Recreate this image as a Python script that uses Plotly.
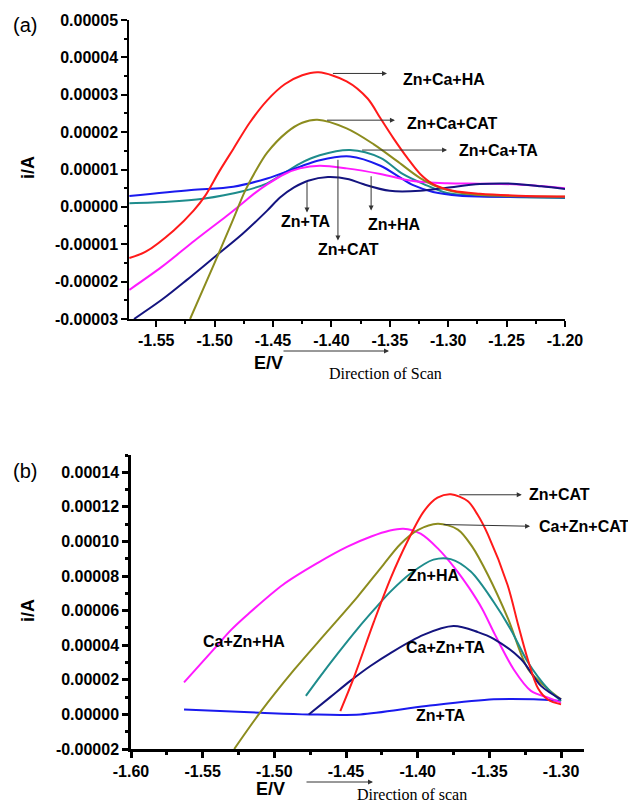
import plotly.graph_objects as go

W, H = 636, 805
OX, OY = 8, 8  # page body margin offset

# ---------------- Panel (a) data ----------------
a_zn_ca_ha_E = [-1.573, -1.559, -1.535, -1.518, -1.508, -1.496, -1.484, -1.47, -1.455, -1.44, -1.425, -1.411, -1.387, -1.369, -1.358, -1.347, -1.335, -1.324, -1.313, -1.296, -1.273, -1.24, -1.20]
a_zn_ca_ha_I = [-1.37e-5, -1.2e-5, -0.63e-5, -0.1e-5, 0.3e-5, 0.95e-5, 1.55e-5, 2.25e-5, 2.85e-5, 3.28e-5, 3.52e-5, 3.6e-5, 3.36e-5, 2.9e-5, 2.37e-5, 1.84e-5, 1.31e-5, 0.88e-5, 0.61e-5, 0.43e-5, 0.35e-5, 0.3e-5, 0.28e-5]

a_zn_ca_cat_E = [-1.521, -1.50, -1.485, -1.474, -1.465, -1.455, -1.438, -1.425, -1.412, -1.387, -1.364, -1.344, -1.324, -1.307, -1.284, -1.25, -1.20]
a_zn_ca_cat_I = [-3.0e-5, -1.5e-5, -0.4e-5, 0.42e-5, 0.95e-5, 1.45e-5, 2.0e-5, 2.25e-5, 2.33e-5, 2.1e-5, 1.68e-5, 1.23e-5, 0.77e-5, 0.51e-5, 0.35e-5, 0.29e-5, 0.27e-5]

a_zn_ca_ta_E = [-1.573, -1.54, -1.51, -1.476, -1.455, -1.427, -1.41, -1.384, -1.358, -1.339, -1.321, -1.301, -1.273, -1.24, -1.20]
a_zn_ca_ta_I = [0.1e-5, 0.14e-5, 0.22e-5, 0.42e-5, 0.63e-5, 1.16e-5, 1.38e-5, 1.52e-5, 1.31e-5, 0.88e-5, 0.61e-5, 0.37e-5, 0.29e-5, 0.26e-5, 0.24e-5]

a_zn_cat_E = [-1.573, -1.52, -1.484, -1.455, -1.41, -1.384, -1.358, -1.341, -1.33, -1.313, -1.29, -1.25, -1.20]
a_zn_cat_I = [0.29e-5, 0.45e-5, 0.54e-5, 0.76e-5, 1.25e-5, 1.35e-5, 1.1e-5, 0.78e-5, 0.58e-5, 0.4e-5, 0.3e-5, 0.27e-5, 0.26e-5]

a_zn_ta_E = [-1.569, -1.545, -1.524, -1.50, -1.476, -1.455, -1.444, -1.432, -1.42, -1.403, -1.385, -1.373, -1.35, -1.324, -1.301, -1.273, -1.245, -1.22, -1.20]
a_zn_ta_I = [-3.0e-5, -2.48e-5, -1.96e-5, -1.34e-5, -0.72e-5, -0.1e-5, 0.25e-5, 0.52e-5, 0.7e-5, 0.8e-5, 0.74e-5, 0.61e-5, 0.43e-5, 0.43e-5, 0.51e-5, 0.61e-5, 0.62e-5, 0.55e-5, 0.48e-5]

a_zn_ha_E = [-1.573, -1.545, -1.517, -1.49, -1.478, -1.465, -1.455, -1.44, -1.427, -1.41, -1.387, -1.358, -1.33, -1.301, -1.273, -1.24, -1.20]
a_zn_ha_I = [-2.22e-5, -1.6e-5, -0.9e-5, -0.25e-5, 0.05e-5, 0.38e-5, 0.6e-5, 0.88e-5, 1.03e-5, 1.1e-5, 1.03e-5, 0.88e-5, 0.69e-5, 0.63e-5, 0.62e-5, 0.6e-5, 0.5e-5]

# ---------------- Panel (b) data ----------------
b_ca_zn_ha_E = [-1.563, -1.542, -1.53, -1.519, -1.494, -1.47, -1.449, -1.432, -1.42, -1.41, -1.398, -1.386, -1.374, -1.364, -1.355, -1.346, -1.333, -1.321, -1.309, -1.30]
b_ca_zn_ha_I = [1.85e-5, 3.79e-5, 4.9e-5, 5.75e-5, 7.5e-5, 8.75e-5, 9.7e-5, 10.3e-5, 10.62e-5, 10.74e-5, 10.45e-5, 9.6e-5, 8.45e-5, 7.3e-5, 6.1e-5, 4.6e-5, 2.6e-5, 1.36e-5, 0.97e-5, 0.68e-5]

b_ca_zn_cat_E = [-1.528, -1.51, -1.486, -1.463, -1.442, -1.424, -1.412, -1.40, -1.386, -1.372, -1.362, -1.351, -1.337, -1.323, -1.309, -1.30]
b_ca_zn_cat_I = [-2.0e-5, 0.1e-5, 2.6e-5, 4.8e-5, 6.8e-5, 8.65e-5, 9.85e-5, 10.65e-5, 11.02e-5, 10.69e-5, 9.7e-5, 8.06e-5, 5.54e-5, 2.62e-5, 1.46e-5, 0.87e-5]

b_zn_ha_E = [-1.478, -1.468, -1.456, -1.442, -1.43, -1.419, -1.405, -1.389, -1.377, -1.363, -1.347, -1.335, -1.323, -1.309, -1.30]
b_zn_ha_I = [1.07e-5, 2.2e-5, 3.5e-5, 4.95e-5, 6.1e-5, 7.1e-5, 8.15e-5, 8.95e-5, 8.98e-5, 8.26e-5, 6.5e-5, 4.9e-5, 3.0e-5, 1.46e-5, 0.78e-5]

b_zn_cat_E = [-1.454, -1.4445, -1.4306, -1.4189, -1.4072, -1.3956, -1.3862, -1.3769, -1.3652, -1.3583, -1.351, -1.3373, -1.330, -1.3233, -1.316, -1.309, -1.30]
b_zn_cat_I = [0.19e-5, 2.14e-5, 5.35e-5, 7.87e-5, 10.0e-5, 11.76e-5, 12.53e-5, 12.73e-5, 12.34e-5, 11.56e-5, 10.4e-5, 7.48e-5, 5.2e-5, 3.2e-5, 1.5e-5, 0.85e-5, 0.58e-5]

b_ca_zn_ta_E = [-1.476, -1.461, -1.447, -1.433, -1.419, -1.396, -1.375, -1.358, -1.347, -1.328, -1.314, -1.30]
b_ca_zn_ta_I = [0.0, 1.0e-5, 1.94e-5, 2.8e-5, 3.55e-5, 4.6e-5, 5.11e-5, 4.76e-5, 4.37e-5, 3.2e-5, 1.65e-5, 0.87e-5]

b_zn_ta_E = [-1.563, -1.51, -1.476, -1.44, -1.394, -1.347, -1.319, -1.301]
b_zn_ta_I = [0.29e-5, 0.1e-5, 0.0, 0.0, 0.48e-5, 0.87e-5, 0.87e-5, 0.78e-5]

# tick values
a_xticks = [-1.55, -1.50, -1.45, -1.40, -1.35, -1.30, -1.25, -1.20]
a_yticks = [-0.00003, -0.00002, -0.00001, 0.0, 0.00001, 0.00002, 0.00003, 0.00004, 0.00005]
b_xticks = [-1.60, -1.55, -1.50, -1.45, -1.40, -1.35, -1.30]
b_yticks = [-0.00002, 0.0, 0.00002, 0.00004, 0.00006, 0.00008, 0.00010, 0.00012, 0.00014]

RED = "#ff1a1a"
OLIVE = "#8c8c1e"
TEAL = "#1e8c8c"
BLUE = "#1a1aee"
NAVY = "#14147f"
MAG = "#ff1aff"

fig = go.Figure()

def add(E, I, color, ax, name):
    fig.add_trace(go.Scatter(x=E, y=I, mode="lines", name=name,
                             line=dict(color=color, width=2, shape="spline", smoothing=0.9),
                             xaxis=ax[0], yaxis=ax[1], showlegend=False))

A = ("x", "y")
B = ("x2", "y2")
add(a_zn_ca_ta_E, a_zn_ca_ta_I, TEAL, A, "Zn+Ca+TA")
add(a_zn_cat_E, a_zn_cat_I, BLUE, A, "Zn+CAT")
add(a_zn_ha_E, a_zn_ha_I, MAG, A, "Zn+HA")
add(a_zn_ta_E, a_zn_ta_I, NAVY, A, "Zn+TA")
add(a_zn_ca_cat_E, a_zn_ca_cat_I, OLIVE, A, "Zn+Ca+CAT")
add(a_zn_ca_ha_E, a_zn_ca_ha_I, RED, A, "Zn+Ca+HA")

add(b_zn_ta_E, b_zn_ta_I, BLUE, B, "Zn+TA")
add(b_ca_zn_ha_E, b_ca_zn_ha_I, MAG, B, "Ca+Zn+HA")
add(b_ca_zn_cat_E, b_ca_zn_cat_I, OLIVE, B, "Ca+Zn+CAT")
add(b_zn_ha_E, b_zn_ha_I, TEAL, B, "Zn+HA")
add(b_ca_zn_ta_E, b_ca_zn_ta_I, NAVY, B, "Ca+Zn+TA")
add(b_zn_cat_E, b_zn_cat_I, RED, B, "Zn+CAT")

tickfont = dict(family="Liberation Sans, Arial", size=16, color="black", weight="bold")

def axis_common(lw):
    return dict(showgrid=False, zeroline=False, showline=True, linecolor="black",
                linewidth=lw, ticks="outside", ticklen=6, tickwidth=lw, tickcolor="black",
                tickfont=tickfont, mirror=False)

def XD(px):
    return (px - OX) / W

def YD(py):
    return 1 - (py - OY) / H

fig.update_layout(
    width=W, height=H,
    margin=dict(l=0, r=0, t=0, b=0, autoexpand=False),
    paper_bgcolor="white", plot_bgcolor="white",
    xaxis=dict(domain=[XD(129), XD(565)], range=[-1.5733, -1.20], anchor="y",
               tickvals=a_xticks, ticktext=["%.2f" % v for v in a_xticks],
               minor=dict(dtick=0.025, tick0=-1.55, ticks="outside", ticklen=3, tickcolor="black"),
               **axis_common(1.5)),
    yaxis=dict(domain=[YD(319), YD(20)], range=[-0.00003, 0.00005], anchor="x",
               tickvals=a_yticks, ticktext=["%.5f" % v for v in a_yticks],
               minor=dict(dtick=0.000005, tick0=0, ticks="outside", ticklen=3, tickcolor="black"),
               **axis_common(1.5)),
    xaxis2=dict(domain=[XD(131), XD(584)], range=[-1.60, -1.284], anchor="y2",
                tickvals=b_xticks, ticktext=["%.2f" % v for v in b_xticks],
                minor=dict(dtick=0.025, tick0=-1.60, ticks="outside", ticklen=3, tickcolor="black"),
                **axis_common(2.5)),
    yaxis2=dict(domain=[YD(749), YD(455)], range=[-0.00002, 0.00015], anchor="x2",
                tickvals=b_yticks, ticktext=["%.5f" % v for v in b_yticks],
                minor=dict(dtick=0.00001, tick0=0, ticks="outside", ticklen=3, tickcolor="black"),
                **axis_common(2.5)),
)

lab = dict(family="Liberation Sans, Arial", size=16, color="black", weight="bold")
ARROW = "#333333"

def arrow(xh, yh, xt, yt, xr, yr):
    fig.add_annotation(x=xh, y=yh, ax=xt, ay=yt, xref=xr, yref=yr, axref=xr, ayref=yr,
                       text="", showarrow=True, arrowhead=2, arrowsize=1, arrowwidth=1,
                       arrowcolor=ARROW)

def label(x, y, t, xr, yr, xanchor="center"):
    fig.add_annotation(x=x, y=y, xref=xr, yref=yr, text=t, showarrow=False,
                       font=lab, xanchor=xanchor, yanchor="middle")

# ---- panel (a) labels ----
arrow(-1.3524, 3.57e-5, -1.400, 3.57e-5, "x", "y")
label(-1.3404, 3.42e-5, "Zn+Ca+HA", "x", "y", "left")
arrow(-1.3456, 2.32e-5, -1.405, 2.32e-5, "x", "y")
label(-1.337, 2.24e-5, "Zn+Ca+CAT", "x", "y", "left")
arrow(-1.301, 1.52e-5, -1.375, 1.52e-5, "x", "y")
label(-1.2925, 1.5e-5, "Zn+Ca+TA", "x", "y", "left")
arrow(-1.4209, -0.15e-5, -1.4209, 0.7e-5, "x", "y")
label(-1.4226, -0.4e-5, "Zn+TA", "x", "y")
arrow(-1.3944, -0.9e-5, -1.3944, 1.3e-5, "x", "y")
label(-1.3854, -1.13e-5, "Zn+CAT", "x", "y")
arrow(-1.366, -0.1e-5, -1.366, 0.86e-5, "x", "y")
label(-1.3464, -0.46e-5, "Zn+HA", "x", "y")

# ---- panel (b) labels ----
arrow(-1.3274, 12.7e-5, -1.372, 12.7e-5, "x2", "y2")
label(-1.3239, 12.73e-5, "Zn+CAT", "x2", "y2", "left")
arrow(-1.3216, 10.88e-5, -1.383, 10.98e-5, "x2", "y2")
label(-1.317, 10.88e-5, "Ca+Zn+CAT", "x2", "y2", "left")
label(-1.389, 8.03e-5, "Zn+HA", "x2", "y2")
label(-1.3804, 3.85e-5, "Ca+Zn+TA", "x2", "y2")
label(-1.3843, -0.06e-5, "Zn+TA", "x2", "y2")
label(-1.5214, 4.24e-5, "Ca+Zn+HA", "x2", "y2")

# ---- axis titles, panel letters, scan direction ----
def ptext(px, py, t, font, angle=0, xanchor="center"):
    fig.add_annotation(x=XD(px), y=YD(py), xref="paper", yref="paper", text=t,
                       showarrow=False, font=font, textangle=angle,
                       xanchor=xanchor, yanchor="middle")

def parrow(x0, x1, py):
    fig.add_annotation(x=XD(x1), y=YD(py), xref="paper", yref="paper",
                       ax=-(x1 - x0), ay=0, axref="pixel", ayref="pixel",
                       text="", showarrow=True, arrowhead=2, arrowsize=1, arrowwidth=1,
                       arrowcolor=ARROW)

title_font = dict(family="Liberation Sans, Arial", size=18, color="black", weight="bold")
serif = dict(family="Liberation Serif, Times New Roman", size=16, color="black")
letter = dict(family="Liberation Sans, Arial", size=20, color="black")

ptext(25, 25, "(a)", letter)
ptext(25, 471, "(b)", letter)
ptext(28, 168, "i/A", title_font, angle=-90)
ptext(28, 611, "i/A", title_font, angle=-90)
ptext(268, 363, "E/V", title_font)
ptext(270, 789, "E/V", title_font)
parrow(282, 389, 351)
parrow(305, 373, 782)
ptext(327, 373, "Direction of Scan", serif, xanchor="left")
ptext(355, 794, "Direction of scan", serif, xanchor="left")

fig.write_html("out.html")
